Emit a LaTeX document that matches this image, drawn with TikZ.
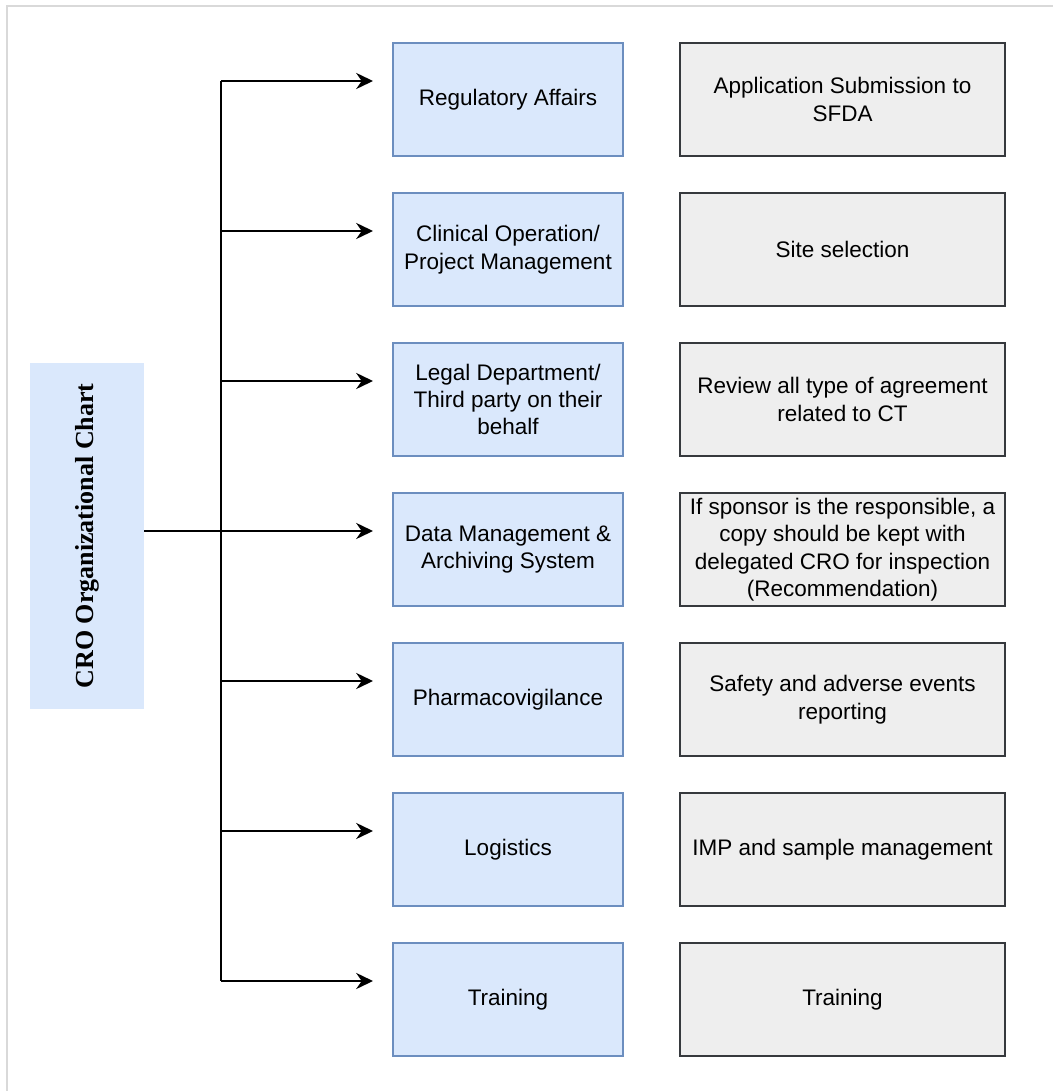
\documentclass[tikz,border=0pt]{standalone}
\usepackage{fontspec}
\setmainfont{Liberation Sans}
\newfontfamily\chartfont{Liberation Serif}
\usepackage{tikz}
\usetikzlibrary{arrows.meta}
\definecolor{deptfill}{HTML}{DAE8FC}
\definecolor{deptline}{HTML}{6C8EBF}
\definecolor{taskfill}{HTML}{EEEEEE}
\definecolor{taskline}{HTML}{36393D}
\definecolor{frameline}{HTML}{D9D9D9}
\tikzset{
  deptbox/.style={draw=deptline, fill=deptfill, line width=1.2pt, minimum width=5.75cm, minimum height=2.825cm, align=center, font=\fontsize{16}{19.5}\selectfont},
  taskbox/.style={draw=taskline, fill=taskfill, line width=1.2pt, minimum width=8.125cm, minimum height=2.825cm, align=center, font=\fontsize{16}{19.5}\selectfont},
  link/.style={line width=1.4pt, -{Stealth[length=12pt, width=11.5pt, inset=4pt]}}
}
\begin{document}
\begin{tikzpicture}[x=0.025cm, y=-0.025cm]
\useasboundingbox (0,0) rectangle (1053,1091);
\draw [frameline, line width=1pt] (7,1091) -- (7,6) -- (1053,6);

\node [fill=deptfill, minimum width=2.85cm, minimum height=8.65cm] (root) at (87,536) {};
\node [rotate=90, font=\chartfont\bfseries\fontsize{18.5}{22}\selectfont] (title) at (root.center) {CRO Organizational Chart};

\foreach \i/\dept/\task in {
  1/{Regulatory Affairs}/{Application Submission to\\SFDA},
  2/{Clinical Operation/\\Project Management}/{Site selection},
  3/{Legal Department/\\Third party on their\\behalf}/{Review all type of agreement\\related to CT},
  4/{Data Management \&\\Archiving System}/{If sponsor is the responsible, a\\copy should be kept with\\delegated CRO for inspection\\(Recommendation)},
  5/{Pharmacovigilance}/{Safety and adverse events\\reporting},
  6/{Logistics}/{IMP and sample management},
  7/{Training}/{Training}}{
  \node [deptbox] (dept\i) at (508,{99.5+150*(\i-1)}) {\dept};
  \node [taskbox] (task\i) at (842.5,{99.5+150*(\i-1)}) {\task};
  \coordinate (branch\i) at (221,{81+150*(\i-1)});
  \coordinate (tip\i) at (373,{81+150*(\i-1)});
  \draw [link] (branch\i) -- (tip\i);
}
\draw [line width=1.4pt] (branch1) -- (branch7);
\draw [line width=1.4pt] (root.east |- branch4) -- (branch4);
\end{tikzpicture}
\end{document}
